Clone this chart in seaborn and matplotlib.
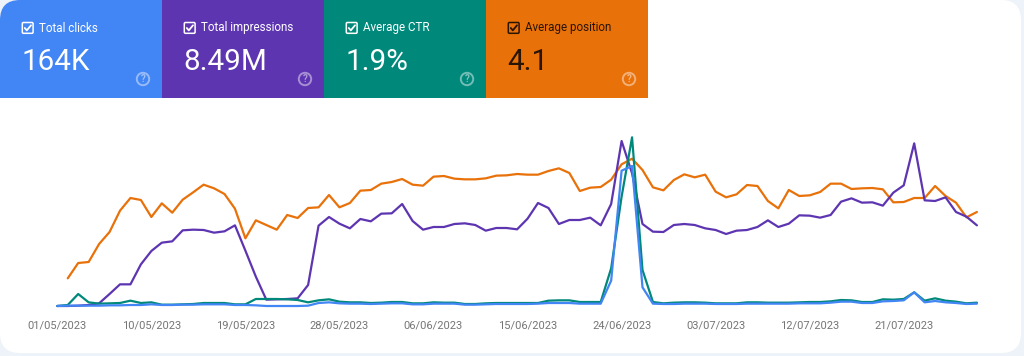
import matplotlib
matplotlib.use("Agg")
import matplotlib.pyplot as plt
from matplotlib.patches import Circle, FancyBboxPatch, Rectangle
import numpy as np
import pandas as pd
import seaborn as sns

# Relative heights, each metric has its own hidden scale
orange_values = [np.nan, 83, 129, 132, 186, 222, 286, 324, 318, 267, 308, 280, 319, 341, 364, 353, 336, 292, 203, 257,
                 243, 229, 273, 264, 294, 296, 333, 296, 309, 346, 348, 367, 372, 381, 364, 361, 388, 390, 382, 380,
                 380, 383, 391, 392, 396, 394, 394, 405, 413, 399, 345, 355, 357, 379, 425, 442, 408, 356, 347, 378,
                 395, 386, 394, 343, 326, 335, 363, 360, 315, 293, 348, 330, 332, 342, 367, 367, 351, 353, 354, 350,
                 311, 312, 324, 324, 360, 330, 310, 266, 282]
purple_values = [0, 0, 1, 3, 8, 36, 65, 65, 125, 165, 190, 194, 227, 229, 228, 220, 224, 242, 166, 88,
                 19, 20, 21, 23, 63, 241, 267, 247, 233, 261, 254, 277, 278, 306, 255, 229, 237, 237, 246, 248,
                 243, 226, 234, 234, 230, 262, 309, 294, 246, 258, 258, 265, 242, 306, 495, 398, 246, 223, 222, 243,
                 246, 243, 233, 228, 216, 226, 228, 237, 257, 237, 247, 272, 271, 265, 273, 313, 323, 310, 311, 301,
                 340, 362, 488, 317, 315, 326, 282, 268, 242]
teal_values = [0, 3, 36, 11, 7, 8, 9, 16, 9, 11, 4, 4, 5, 6, 9, 9, 9, 5, 5, 21,
               21, 21, 20, 18, 11, 17, 20, 13, 11, 11, 9, 10, 12, 12, 8, 8, 11, 10, 10, 6,
               6, 8, 9, 9, 9, 9, 9, 16, 17, 17, 12, 12, 12, 113, 328, 506, 108, 12, 8, 10,
               11, 11, 10, 8, 8, 8, 11, 11, 10, 10, 10, 11, 12, 12, 14, 18, 17, 12, 12, 20,
               19, 21, 41, 16, 23, 16, 13, 8, 10]
blue_values = [0, 1, 1, 1, 1, 2, 2, 3, 3, 5, 3, 3, 4, 4, 5, 5, 5, 3, 3, 2,
               0, 0, 0, 0, 1, 9, 11, 8, 7, 7, 6, 7, 8, 8, 5, 5, 7, 7, 7, 4,
               4, 5, 6, 6, 6, 6, 7, 9, 9, 9, 7, 7, 7, 76, 406, 420, 56, 7, 6, 6,
               7, 7, 7, 6, 6, 6, 7, 7, 7, 7, 7, 8, 8, 8, 10, 13, 13, 9, 9, 14,
               15, 17, 41, 11, 15, 11, 9, 6, 7]

tick_labels = ["01/05/2023", "10/05/2023", "19/05/2023", "28/05/2023", "06/06/2023",
               "15/06/2023", "24/06/2023", "03/07/2023", "12/07/2023", "21/07/2023"]
metric_names = ["Total clicks", "Total impressions", "Average CTR", "Average position"]
metric_totals = ["164K", "8.49M", "1.9%", "4.1"]
metric_colors = ["#4285F4", "#5E35B1", "#00897B", "#E8710A"]

dates = pd.date_range("2023-05-01", periods=len(blue_values), freq="D")
df = pd.concat([
    pd.DataFrame({"date": dates, "metric": "Average position", "value": orange_values}),
    pd.DataFrame({"date": dates, "metric": "Total impressions", "value": purple_values}),
    pd.DataFrame({"date": dates, "metric": "Average CTR", "value": teal_values}),
    pd.DataFrame({"date": dates, "metric": "Total clicks", "value": blue_values}),
], ignore_index=True)

sns.set_style("white")
plt.rcParams["font.family"] = ["Roboto", "DejaVu Sans"]

W, H = 1024, 356
fig = plt.figure(figsize=(W / 100, H / 100), dpi=100, facecolor="#EEF2F9")

# Background layer in pixel coordinates for the card and the tiles
bg = fig.add_axes([0, 0, 1, 1], zorder=0)
bg.set_xlim(0, W)
bg.set_ylim(H, 0)
bg.axis("off")

card = FancyBboxPatch((20, 20), 981, 313, boxstyle="round,pad=20,rounding_size=20",
                      facecolor="white", edgecolor="none")
bg.add_patch(card)

tile_w = 162
for i, (name, total, color) in enumerate(zip(metric_names, metric_totals, metric_colors)):
    x0 = i * tile_w
    tile = Rectangle((x0, 0), tile_w, 98, facecolor=color, edgecolor="none")
    bg.add_patch(tile)
    tile.set_clip_path(card)

    fg = "#2A1505" if name == "Average position" else "white"
    bg.add_patch(FancyBboxPatch((x0 + 22.6, 22.8), 10.2, 10.2, boxstyle="round,pad=0.3,rounding_size=1.2",
                                facecolor="none", edgecolor=fg, linewidth=1.1))
    bg.plot([x0 + 24.8, x0 + 26.8, x0 + 31], [28, 30.4, 25.3], color=fg, linewidth=1.3)
    bg.text(x0 + 39, 28, name, color=fg, fontsize=8.4, va="center", ha="left")
    bg.text(x0 + 21, 70.5, total, color=fg, fontsize=21.3, va="baseline", ha="left")

    bg.add_patch(Circle((x0 + 143, 79), 6.2, facecolor="none", edgecolor="white", alpha=0.45, linewidth=1.4))
    bg.text(x0 + 143, 79.3, "?", color="white", alpha=0.5, fontsize=7, fontweight="bold", va="center", ha="center")

# Chart axes: baseline sits at y=306, three value units per pixel
ax = fig.add_axes([57.3 / W, 1 - 310 / H, 919.6 / W, 180 / H], zorder=1)
ax.patch.set_alpha(0)
sns.lineplot(data=df, x="date", y="value", hue="metric",
             hue_order=["Average position", "Total impressions", "Average CTR", "Total clicks"],
             palette=[metric_colors[3], metric_colors[1], metric_colors[2], metric_colors[0]],
             estimator=None, linewidth=1.6, legend=False, ax=ax, clip_on=False)
ax.set_xlim(dates[0], dates[-1])
ax.set_ylim(-12, 528)
ax.set_xticks(dates[::9])
ax.set_xticklabels(tick_labels, fontsize=8, color="#757575")
ax.set_yticks([])
ax.set_xlabel("")
ax.set_ylabel("")
ax.tick_params(axis="x", length=0, pad=7.4)
sns.despine(ax=ax, left=True, bottom=True)

fig.savefig("out.png", dpi=100, facecolor=fig.get_facecolor())
